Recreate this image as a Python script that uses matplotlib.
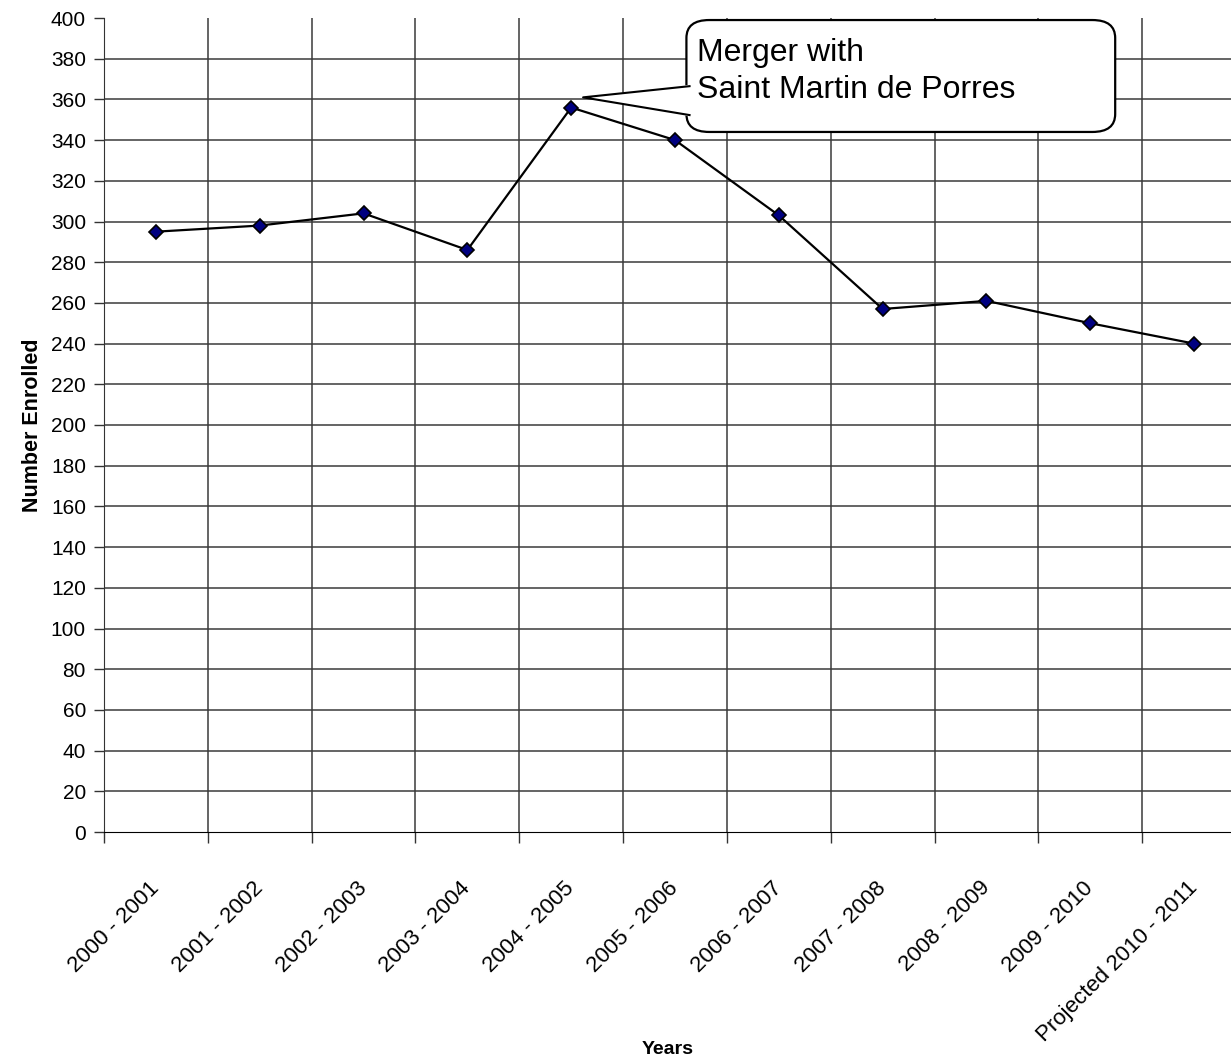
import matplotlib.pyplot as plt
from matplotlib.patches import FancyBboxPatch, Polygon
from matplotlib.ticker import MultipleLocator, FixedLocator

plt.rcParams['font.family'] = ['Liberation Sans', 'DejaVu Sans']

# ── Data ───────────────────────────────────────────────────────────────────
years = ['2000 - 2001', '2001 - 2002', '2002 - 2003', '2003 - 2004',
         '2004 - 2005', '2005 - 2006', '2006 - 2007', '2007 - 2008',
         '2008 - 2009', '2009 - 2010', 'Projected 2010 - 2011']
enrolled = [295, 298, 304, 286, 356, 340, 303, 257, 261, 250, 240]
callout_text = 'Merger with\nSaint Martin de Porres'
callout_idx = 4

# ── Figure ─────────────────────────────────────────────────────────────────
fig = plt.figure(figsize=(12.31, 10.6), dpi=100)
ax = fig.add_axes([104 / 1231, 1 - 832 / 1060, 1142 / 1231, 814 / 1060])

x = list(range(len(years)))
ax.set_xlim(-0.5, len(years) - 0.5)
ax.set_ylim(0, 400)

# grid (no line at the top value)
for v in range(20, 400, 20):
    ax.axhline(v, color='#3a3a3a', lw=1.1, zorder=1)
for b in range(1, len(years)):
    ax.axvline(b - 0.5, color='#3a3a3a', lw=1.1, zorder=1)

ax.plot(x, enrolled, color='black', lw=1.6, marker='D', markersize=7,
        markerfacecolor='#000080', markeredgecolor='black', markeredgewidth=1.2,
        zorder=3)

for s in ['top', 'right']:
    ax.spines[s].set_visible(False)
ax.spines['left'].set_color('#333333')
ax.spines['bottom'].set_color('black')

ax.yaxis.set_major_locator(MultipleLocator(20))
ax.tick_params(axis='y', direction='out', length=7, width=1, labelsize=15,
               color='#333333', pad=6)

ax.xaxis.set_major_locator(FixedLocator(x))
ax.set_xticklabels(years, rotation=45, ha='right', va='center',
                   rotation_mode='anchor', fontsize=16)
ax.tick_params(axis='x', which='major', length=0, pad=38)
ax.xaxis.set_minor_locator(FixedLocator([b - 0.5 for b in range(len(years) + 1)]))
ax.tick_params(axis='x', which='minor', length=8, width=1, color='#333333')

ax.set_ylabel('Number Enrolled', fontsize=15.5, fontweight='bold')
ax.yaxis.set_label_coords(-(104 - 33) / 1142, (832 - 425) / 814)
ax.yaxis.label.set_va('center')
ax.set_xlabel('Years', fontsize=14, fontweight='bold')
ax.xaxis.set_label_coords((668 - 104) / 1142, -(1049 - 832) / 814)
ax.xaxis.label.set_va('center')

# ── Callout ────────────────────────────────────────────────────────────────
bx0, bx1, by0, by1 = 5.11, 9.24, 344, 399
box = FancyBboxPatch((bx0, by0), bx1 - bx0, by1 - by0,
                     boxstyle='round,pad=0,rounding_size=0.22',
                     mutation_aspect=40, facecolor='white', edgecolor='black',
                     lw=1.6, zorder=5, clip_on=False)
ax.add_patch(box)
tip = (callout_idx + 0.115, 361)
b_top = (bx0 + 0.03, 366.5)
b_bot = (bx0 + 0.03, 352.3)
ax.add_patch(Polygon([tip, (bx0 + 0.05, 367.3), (bx0 + 0.05, 351.5)],
                     closed=True, facecolor='white', edgecolor='none',
                     zorder=6, clip_on=False))
ax.plot([b_top[0], tip[0], b_bot[0]], [b_top[1], tip[1], b_bot[1]],
        color='black', lw=1.5, zorder=7, clip_on=False)
ax.text(bx0 + 0.1, 390, callout_text, fontsize=23, va='top', ha='left',
        linespacing=1.3, zorder=8)

fig.savefig('out.png', dpi=100)
